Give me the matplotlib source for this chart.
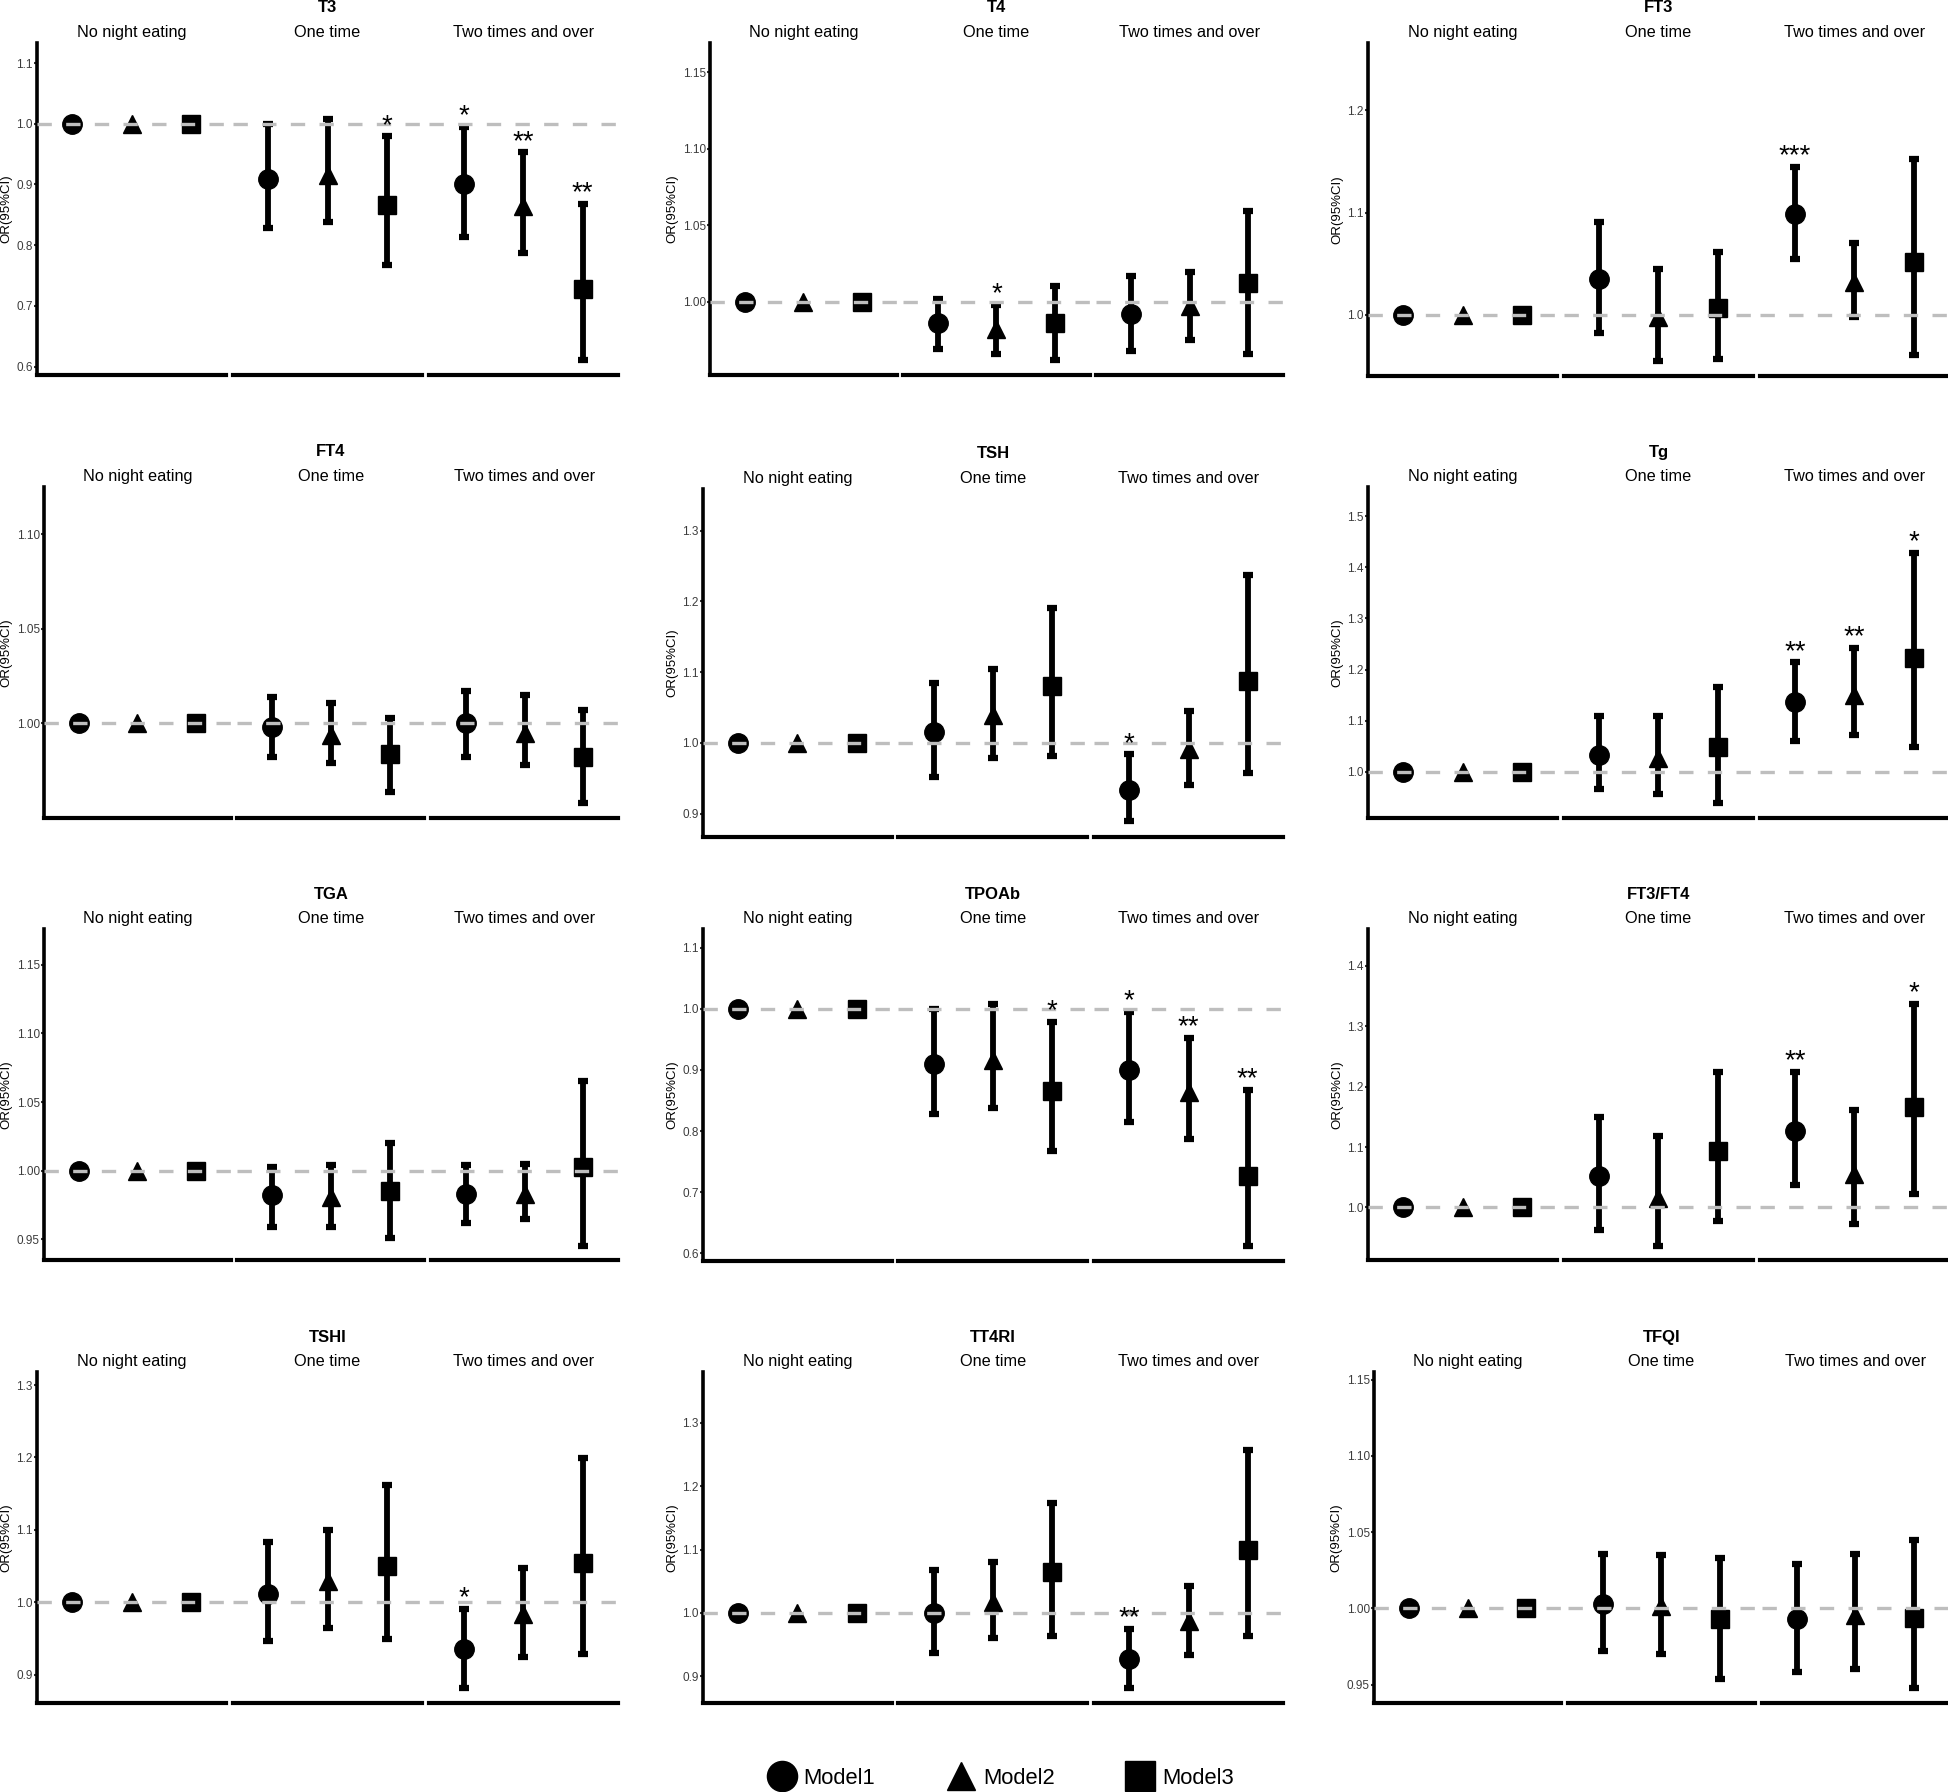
import matplotlib
matplotlib.use("Agg")
import matplotlib.pyplot as plt
from matplotlib.lines import Line2D
from matplotlib.ticker import FixedLocator, FixedFormatter

plt.rcParams['font.family'] = ['Liberation Sans', 'DejaVu Sans']

groups = ["No night eating", "One time", "Two times and over"]
models = ["Model1", "Model2", "Model3"]
panels = ["T3", "T4", "FT3", "FT4", "TSH", "Tg",
          "TGA", "TPOAb", "FT3/FT4", "TSHI", "TT4RI", "TFQI"]

# values for "One time" (Model1-3) then "Two times and over" (Model1-3);
# "No night eating" is the reference, OR = 1
T3 = dict(or_=[0.909, 0.916, 0.866, 0.900, 0.864, 0.727],
          lo=[0.828, 0.838, 0.768, 0.814, 0.787, 0.611],
          hi=[1.000, 1.008, 0.979, 0.995, 0.953, 0.868],
          sig=["", "", "*", "*", "**", "**"])
T4 = dict(or_=[0.986, 0.982, 0.986, 0.992, 0.997, 1.012],
          lo=[0.969, 0.966, 0.962, 0.968, 0.975, 0.966],
          hi=[1.002, 0.998, 1.010, 1.017, 1.019, 1.059],
          sig=["", "*", "", "", "", ""])
FT3 = dict(or_=[1.035, 0.998, 1.007, 1.099, 1.032, 1.052],
           lo=[0.982, 0.955, 0.957, 1.055, 0.998, 0.961],
           hi=[1.091, 1.045, 1.061, 1.145, 1.070, 1.152],
           sig=["", "", "", "***", "", ""])
FT4 = dict(or_=[0.998, 0.994, 0.984, 1.000, 0.995, 0.982],
           lo=[0.982, 0.979, 0.964, 0.982, 0.978, 0.958],
           hi=[1.014, 1.011, 1.003, 1.017, 1.015, 1.007],
           sig=["", "", "", "", "", ""])
TSH = dict(or_=[1.016, 1.039, 1.081, 0.934, 0.991, 1.088],
           lo=[0.952, 0.978, 0.981, 0.889, 0.940, 0.958],
           hi=[1.085, 1.104, 1.191, 0.984, 1.045, 1.238],
           sig=["", "", "", "*", "", ""])
Tg = dict(or_=[1.034, 1.027, 1.049, 1.136, 1.151, 1.222],
          lo=[0.966, 0.956, 0.940, 1.061, 1.072, 1.048],
          hi=[1.109, 1.109, 1.167, 1.214, 1.242, 1.428],
          sig=["", "", "", "**", "**", "*"])
TGA = dict(or_=[0.982, 0.981, 0.985, 0.983, 0.983, 1.003],
           lo=[0.959, 0.959, 0.951, 0.962, 0.965, 0.945],
           hi=[1.003, 1.004, 1.020, 1.004, 1.005, 1.065],
           sig=["", "", "", "", "", ""])
TPOAb = dict(or_=[0.909, 0.916, 0.866, 0.900, 0.864, 0.727],
             lo=[0.828, 0.838, 0.768, 0.814, 0.787, 0.611],
             hi=[1.000, 1.008, 0.979, 0.995, 0.953, 0.868],
             sig=["", "", "*", "*", "**", "**"])
FT3_FT4 = dict(or_=[1.052, 1.015, 1.094, 1.127, 1.056, 1.167],
               lo=[0.962, 0.936, 0.977, 1.037, 0.972, 1.022],
               hi=[1.150, 1.119, 1.224, 1.224, 1.162, 1.337],
               sig=["", "", "", "**", "", "*"])
TSHI = dict(or_=[1.012, 1.029, 1.050, 0.935, 0.984, 1.054],
            lo=[0.946, 0.965, 0.949, 0.882, 0.924, 0.929],
            hi=[1.083, 1.100, 1.162, 0.991, 1.047, 1.199],
            sig=["", "", "", "*", "", ""])
TT4RI = dict(or_=[1.000, 1.018, 1.064, 0.927, 0.987, 1.100],
             lo=[0.937, 0.961, 0.963, 0.882, 0.933, 0.963],
             hi=[1.068, 1.080, 1.174, 0.975, 1.042, 1.257],
             sig=["", "", "", "**", "", ""])
TFQI = dict(or_=[1.003, 1.0015, 0.993, 0.993, 0.996, 0.994],
            lo=[0.972, 0.970, 0.954, 0.958, 0.960, 0.948],
            hi=[1.036, 1.035, 1.033, 1.029, 1.036, 1.045],
            sig=["", "", "", "", "", ""])

data = {"T3": T3, "T4": T4, "FT3": FT3, "FT4": FT4, "TSH": TSH, "Tg": Tg,
        "TGA": TGA, "TPOAb": TPOAb, "FT3/FT4": FT3_FT4, "TSHI": TSHI,
        "TT4RI": TT4RI, "TFQI": TFQI}

# y axis range and ticks of each panel
ylims = {"T3": (0.586, 1.133), "T4": (0.952, 1.169), "FT3": (0.940, 1.266),
         "FT4": (0.950, 1.125), "TSH": (0.867, 1.359), "Tg": (0.910, 1.557),
         "TGA": (0.935, 1.176), "TPOAb": (0.587, 1.131), "FT3/FT4": (0.913, 1.461),
         "TSHI": (0.861, 1.318), "TT4RI": (0.858, 1.380), "TFQI": (0.938, 1.155)}
yticks = {"T3": [0.6, 0.7, 0.8, 0.9, 1.0, 1.1], "T4": [1.00, 1.05, 1.10, 1.15],
          "FT3": [1.0, 1.1, 1.2], "FT4": [1.00, 1.05, 1.10],
          "TSH": [0.9, 1.0, 1.1, 1.2, 1.3], "Tg": [1.0, 1.1, 1.2, 1.3, 1.4, 1.5],
          "TGA": [0.95, 1.00, 1.05, 1.10, 1.15], "TPOAb": [0.6, 0.7, 0.8, 0.9, 1.0, 1.1],
          "FT3/FT4": [1.0, 1.1, 1.2, 1.3, 1.4], "TSHI": [0.9, 1.0, 1.1, 1.2, 1.3],
          "TT4RI": [0.9, 1.0, 1.1, 1.2, 1.3], "TFQI": [0.95, 1.00, 1.05, 1.10, 1.15]}
ydec = {"T4": 2, "FT4": 2, "TGA": 2, "TFQI": 2}

# panel boxes in pixels: left, right, top, bottom
W, H = 1949, 1792
boxes = {"T3": (37, 618, 43, 375), "T4": (710, 1283, 43, 375), "FT3": (1368, 1949, 43, 376),
         "FT4": (44, 618, 487, 818), "TSH": (703, 1283, 489, 837), "Tg": (1368, 1949, 487, 818),
         "TGA": (44, 618, 929, 1260), "TPOAb": (703, 1283, 929, 1261), "FT3/FT4": (1368, 1949, 929, 1260),
         "TSHI": (37, 618, 1372, 1703), "TT4RI": (703, 1283, 1372, 1703), "TFQI": (1374, 1949, 1372, 1703)}

marker_style = [("o", 14), ("^", 13), ("s", 13.5)]
dodge = [-0.313, 0.0, 0.313]


def px_box(l, r, t, b):
    return [l / W, 1 - b / H, (r - l) / W, (b - t) / H]


def draw_panel(fig, name):
    d = data[name]
    l, r, t, b = boxes[name]
    gap = 6.5
    fw = (r - l - 2 * gap) / 3
    for gi, grp in enumerate(groups):
        fl = l + gi * (fw + gap)
        ax = fig.add_axes(px_box(fl, fl + fw, t, b))
        ax.set_xlim(-0.5, 0.5)
        ax.set_ylim(*ylims[name])
        for mi in range(3):
            mk, ms = marker_style[mi]
            x = dodge[mi]
            if gi == 0:
                v = 1.0
            else:
                k = (gi - 1) * 3 + mi
                v, lo, hi = d["or_"][k], d["lo"][k], d["hi"][k]
                ax.errorbar([x], [v], yerr=[[v - lo], [hi - v]], fmt="none",
                            ecolor="black", elinewidth=4.2, capsize=3.8,
                            capthick=4.5, zorder=2)
                if d["sig"][k]:
                    ax.annotate(d["sig"][k], (x, hi), xytext=(0, 2.5),
                                textcoords="offset points", ha="center",
                                va="baseline", fontsize=20, zorder=6)
            ax.plot([x], [v], marker=mk, ms=ms, color="black", ls="none", zorder=3)
        ax.axhline(1, color="#BEBEBE", lw=2.4, dashes=(4.3, 4.3), zorder=5)
        ax.set_title(grp, fontsize=11.7, pad=4.5)
        for s in ["top", "right"]:
            ax.spines[s].set_visible(False)
        ax.spines["bottom"].set_linewidth(3)
        ax.set_xticks([])
        if gi == 0:
            ax.spines["left"].set_linewidth(2.6)
            dec = ydec.get(name, 1)
            ax.yaxis.set_major_locator(FixedLocator(yticks[name]))
            ax.yaxis.set_major_formatter(
                FixedFormatter([f"{tk:.{dec}f}" for tk in yticks[name]]))
            ax.tick_params(axis="y", length=2, width=1.5, pad=1,
                           labelsize=8.5, labelcolor="#3C3C3C", color="#333333")
            ax.set_ylabel("OR(95%CI)", fontsize=9.5, labelpad=3)
        else:
            ax.spines["left"].set_visible(False)
            ax.set_yticks([])
    fig.text((l + r) / 2 / W, 1 - (t - 35) / H, name, ha="center", va="center",
             fontsize=12, fontweight="bold")


fig = plt.figure(figsize=(19.49, 17.92), dpi=100)
for name in panels:
    draw_panel(fig, name)

handles = [Line2D([], [], marker=mk, color="black", ls="none", markersize=ms * 1.55)
           for mk, ms in marker_style]
fig.legend(handles, models, loc="center", bbox_to_anchor=(1000 / W, 1 - 1778 / H),
           ncol=3, frameon=False, fontsize=15.8, handlelength=1.4,
           handletextpad=0.3, columnspacing=3.2)

fig.savefig("out.png", dpi=100)
